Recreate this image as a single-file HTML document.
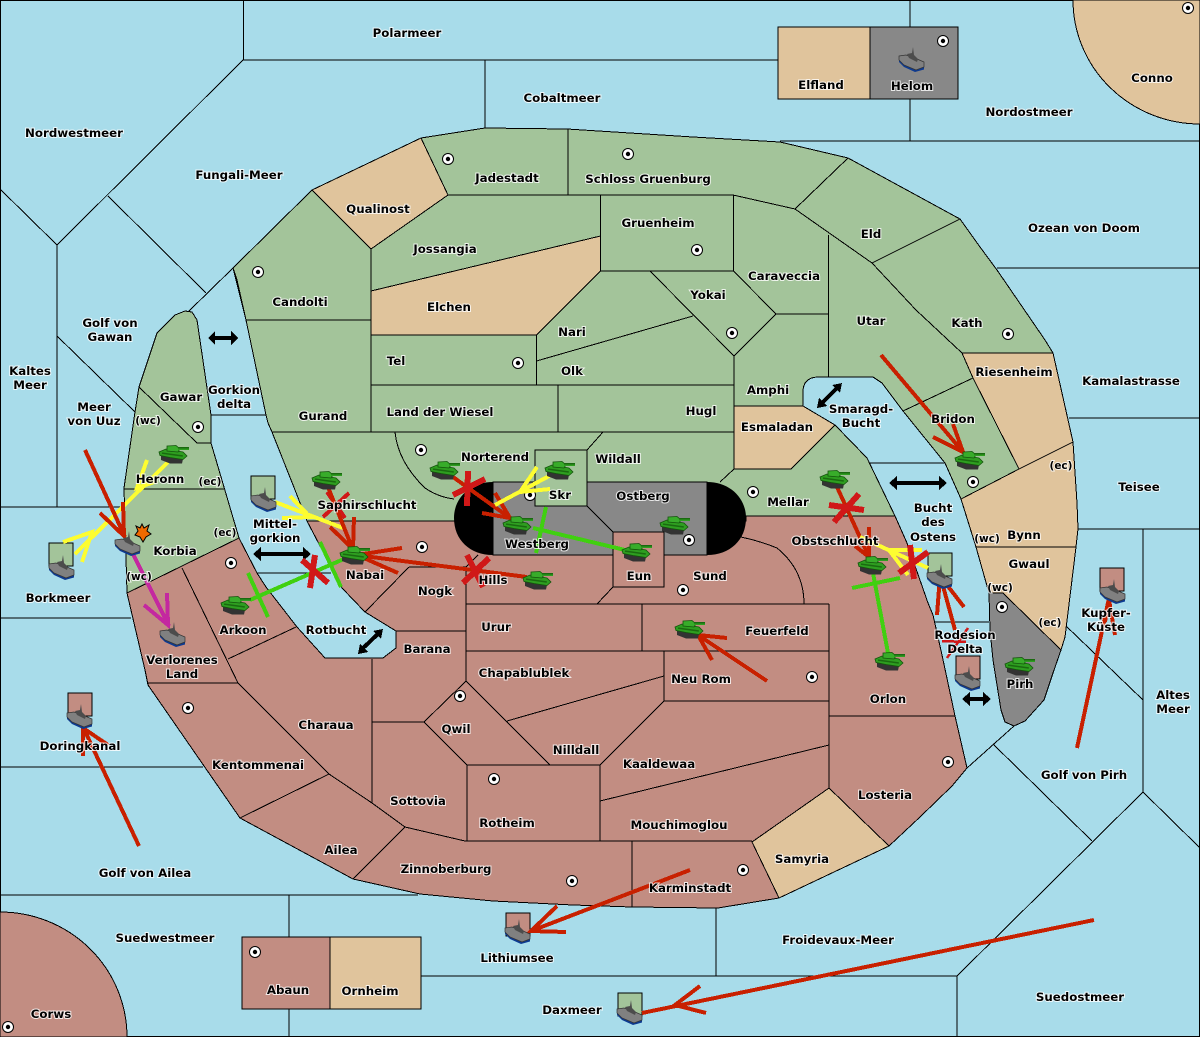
<!DOCTYPE html>
<html><head><meta charset="utf-8"><style>
html,body{margin:0;padding:0;background:#a8dcea}
svg{display:block}
.c{shape-rendering:crispEdges}
.b{fill:none;stroke:#000;stroke-width:1;shape-rendering:crispEdges}
.l{fill:#000;stroke:#fff;stroke-opacity:.8;stroke-width:2px;paint-order:stroke;font:bold 11.8px "DejaVu Sans",sans-serif;text-anchor:middle}
.s{font-size:10.5px}
.r,.y,.g,.m,.x{fill:none;stroke-width:4;stroke-linecap:butt}
.r{stroke:#c82000}.y{stroke:#fdfd30}.g{stroke:#40d010}.m{stroke:#c428a0}.x{stroke:#d01818;stroke-width:6}
</style></head><body>
<svg xmlns="http://www.w3.org/2000/svg" width="1200" height="1037" viewBox="0 0 1200 1037">
<defs>
<g id="sc"><circle r="5.5" fill="#fff" stroke="#000" stroke-width="1"/><circle r="2.2" fill="#000"/></g>
<g id="t">
<polygon points="-13,1 9,5 8,9.500 -4,9.500 -13,6" fill="#333"/>
<polygon points="-15,-2 -8,-5 9,-2 13,2 9,5.500 -4,3.500 -14,1.500" fill="#2e9e20" stroke="#14540c" stroke-width=".8"/>
<polygon points="-7,-8 2,-8.500 6,-5 4,-2 -7,-3" fill="#38ac2a" stroke="#14540c" stroke-width=".8"/>
<rect x="4" y="-7" width="11" height="1.500" fill="#1a6a10"/><rect x="4" y="-5.500" width="11" height="1.500" fill="#2e9e20"/>
<rect x="-12" y="0" width="21" height="1.500" fill="#1a6a10" transform="rotate(8)"/>
</g>
<g id="f">
<polygon points="-13,1 -8,7 4,12 12,9 12,11.500 3,14 -8,9 -13,4" fill="#0d3a90"/>
<polygon points="-13,-2 -6,-3 5,1 12,4 12,9 4,12 -8,7 -13,2" fill="#808080" stroke="#333" stroke-width=".7"/>
<polygon points="-5,-4 0,-5 1,-11 2,-3 6,1 5,4 -3,0" fill="#4c4c4c"/>
</g>
</defs>
<rect width="1200" height="1037" fill="#a8dcea"/>
<!-- sea borders -->
<path class="b" d="M.5,.5H1199.5V1036.5H.5Z M243.500,0V60 M243,60H778 M485,60V129 M243,60L57,245 M0,189L57,245 M108,196L206,293 M233,268L188,312 M57,245V507 M57,336L135,412 M0,507H124 M0,618H131 M0,767H203 M0,895H418 M289,895V937 M289,1009V1037 M910,0V27 M910,99V141 M780,141H1200 M997,268H1200 M1069,418H1200 M1078,529H1200 M1143,529V792 M1065,625L1143,700 M967,768L1014,726 M993,744L1092,841 M1143,792L957,976 M1143,792L1200,848 M716,908V976 M421,976H957 M957,976V1037 M211,415H266 M257,573H331 M870,463H945 M933,622H989"/>
<!-- land -->
<path class="b" style="fill:#a3c49a" d="M233,268L312,190 421,138 485,128 567,129 693,137 780,142 848,158 960,219 980,247 997,270 1045,340 1053,353 1019,469 961,499 945,463 903,411 882,383 873,377H817Q803,378 803,392V406L835,425 867,458 895,516H746V521H307L297,495 272,432 268,423 266,415 246,320 237,280Z"/>
<path class="b" style="fill:#a3c49a" d="M157,333L175,315 185,311 192,312 197,320 211,415V443L239,538 127,593 124,488 135,412 139,387Z"/>
<path class="b" style="fill:#c28d82" d="M307,521H746V516H895L907,543 928,603 933,615 942,655 955,716 967,768 952,786 920,817 889,846 779,898 718,908 632,907 573,905 493,901 420,894 353,879 240,818 148,685 145,670 127,593 239,538 257,573 266,587 297,627 325,658H383L396,648V631L365,612 342,588Z"/>
<polygon class="b" style="fill:#e0c49c" points="312,190 421,138 448,195 371,249"/>
<polygon class="b" style="fill:#e0c49c" points="371,291 600.500,236 600.500,271 536.500,335 371,335"/>
<path class="b" style="fill:#e0c49c" d="M734,406H803L835,425 791,469H734Z"/>
<polygon class="b" style="fill:#e0c49c" points="962,353 1053,353 1073,442 1019,469 973,378"/>
<polygon class="b" style="fill:#e0c49c" points="961,499 1019,469 1073,442 1077,503 1078,529 1076,547 976,547"/>
<polygon class="b" style="fill:#e0c49c" points="976,547 1076,547 1065,637 1061,650 1003,593 989,593"/>
<polygon class="b" style="fill:#e0c49c" points="829,788 889,846 779,898 752,842"/>
<polygon class="b" style="fill:#888" points="989,593 1003,593 1061,650 1053,673 1044,700 1025,721 1014,726 1005,722 1001,710 993,660 990,630"/>
<!-- capsule -->
<rect x="493" y="482" width="214" height="73" class="b" style="fill:#888"/>
<path d="M493,482C470,482 454,498 454,518C454,540 470,555 493,555Z M707,482C730,482 746,498 746,518C746,540 730,555 707,555Z" fill="#000"/>
<rect x="535" y="450" width="52" height="56" class="b" style="fill:#a3c49a"/>
<rect x="613" y="532" width="51" height="55" class="b" style="fill:#c28d82"/>
<!-- interior borders -->
<path class="b" d="M233,268L246,320H371 M371,249V432 M448,195H733 M568,129V195 M421,138L448,195 M536.500,335V385 M371,385H734 M536.500,361L693,316 M600.500,195V271H733.500V195 M733,195L795,209 M795,209L848,158 M795,209L872,263 872,263L960,219 M872,263L916,310 962,353 M650,271L734,356 M733.500,271L776,314 734,356 M776,314H828 M828.500,235V377 M734,356V406 M272,432H734 M558,385V432 M603,432L587,450 M734,469L720,482 M395,432Q398,462 425,488 Q438,497 454,499 M973,378L903,411 M587,506L613,532 M466,567V604 M466,604H829 M409,567H466 M466,567L478,555 M365,612L409,567 M396,631H466 M466,604V681 M597,604L613,587 M741,537Q760,541 777,548 Q804,570 804,604 M642,604V651 M466,651H829 M829,604V788 M664,651V701H829 M829,716H955 M466,681L550,765 M507,721L664,676 M664,701L600,765 M424,722L466,681 M424,722L467,765 M467,765H600 M467,765V841 M600,765V841 M372,659V803 M372,722H424 M465,841H752 M405,827L465,841 M632,841V907 M600,801L829,745 M127,593L239,538 M182,568L238,683 M148,683H238 M228,659L296,627 M238,683L329,774 M329,774L240,818 M329,774L372,803 405,827 M405,827L353,879 M124,489H224 M139,387L197,443H211"/>
<!-- islands -->
<path class="b" style="fill:#e0c49c" d="M1073,0A127,124 0 0 0 1200,124V0Z"/>
<path class="b" style="fill:#c28d82" d="M0,912A127,125 0 0 1 127,1037H0Z"/>
<rect class="b" x="778" y="27" width="92" height="72" style="fill:#e0c49c"/>
<rect class="b" x="870" y="27" width="88" height="72" style="fill:#888"/>
<rect class="b" x="242" y="937" width="88" height="72" style="fill:#c28d82"/>
<rect class="b" x="330" y="937" width="91" height="72" style="fill:#e0c49c"/>
<!-- home squares -->
<rect class="b" x="49" y="543" width="24" height="23" style="fill:#a3c49a"/>
<rect class="b" x="251" y="476" width="24" height="23" style="fill:#a3c49a"/>
<rect class="b" x="928" y="553" width="24" height="23" style="fill:#a3c49a"/>
<rect class="b" x="956" y="656" width="24" height="23" style="fill:#c28d82"/>
<rect class="b" x="1100" y="568" width="24" height="23" style="fill:#c28d82"/>
<rect class="b" x="68" y="693" width="24" height="23" style="fill:#c28d82"/>
<rect class="b" x="506" y="913" width="24" height="23" style="fill:#c28d82"/>
<rect class="b" x="618" y="993" width="24" height="23" style="fill:#a3c49a"/>
<!-- supply centres -->
<g>
<use href="#sc" x="448" y="159"/><use href="#sc" x="628" y="154"/><use href="#sc" x="258" y="272"/><use href="#sc" x="697" y="250"/><use href="#sc" x="518" y="363"/><use href="#sc" x="732" y="333"/><use href="#sc" x="1008" y="334"/><use href="#sc" x="973" y="482"/><use href="#sc" x="753" y="492"/><use href="#sc" x="421" y="450"/><use href="#sc" x="530" y="495"/><use href="#sc" x="422" y="547"/><use href="#sc" x="689" y="540"/><use href="#sc" x="683" y="590"/><use href="#sc" x="198" y="427"/><use href="#sc" x="231" y="563"/><use href="#sc" x="188" y="708"/><use href="#sc" x="460" y="696"/><use href="#sc" x="494" y="779"/><use href="#sc" x="572" y="881"/><use href="#sc" x="743" y="870"/><use href="#sc" x="812" y="677"/><use href="#sc" x="948" y="762"/><use href="#sc" x="255" y="952"/><use href="#sc" x="8" y="1027"/><use href="#sc" x="1002" y="607"/><use href="#sc" x="943" y="41"/><use href="#sc" x="1188" y="8"/>
</g>
<!-- double arrows -->
<g fill="#000" stroke="#000" stroke-width="4" class="c">
<path d="M212,338H234"/><polygon stroke-width="0" points="208,338 215,331 215,345"/><polygon stroke-width="0" points="238,338 231,331 231,345"/>
<path d="M258,554H306"/><polygon stroke-width="0" points="253,554 261,547 261,561"/><polygon stroke-width="0" points="311,554 303,547 303,561"/>
<path d="M893,483H943"/><polygon stroke-width="0" points="889,483 897,476 897,490"/><polygon stroke-width="0" points="947,483 939,476 939,490"/>
<path d="M966,699H987"/><polygon stroke-width="0" points="962,699 970,692 970,706"/><polygon stroke-width="0" points="991,699 983,692 983,706"/>
<path d="M361,650L380,632"/><polygon stroke-width="0" points="358,654 360,644 368,652"/><polygon stroke-width="0" points="383,629 381,639 373,631"/>
<path d="M820,405L839,386"/><polygon stroke-width="0" points="817,408 819,398 827,406"/><polygon stroke-width="0" points="842,383 840,393 832,385"/>
</g>
<!-- orders -->
<g class="c">
<path class="y" d="M75,554L168,462 M63,542L92,532 82,562 M147,460L137,488 157,481"/>
<path class="r" d="M85,450L125,537 M100,513L124,536 123,502"/>
<path class="m" d="M132,552L169,626 M144,605L168,625 167,593"/>
<path class="y" d="M275,502L343,528 M290,496L310,517 282,518"/>
<path class="x" d="M323,517L349,493 M327,492L345,518" style="stroke-width:4"/>
<path class="r" d="M328,487L353,550 M330,527L353,549 354,517"/>
<path class="r" d="M527,577L356,555 M402,548L357,555 398,573"/>
<path class="x" d="M463,583L489,558 M467,555L483,587"/>
<path class="g" d="M250,600L353,555 M248,573L268,617 M320,542L341,587"/>
<path class="x" d="M302,560L328,583 M315,555L310,588"/>
<path class="r" d="M453,477L510,518 M495,493L510,518 482,513"/>
<path class="x" d="M468,471L467,506 M453,495L485,479"/>
<path class="y" d="M551,475L495,505 M537,467L520,492 550,489"/>
<path class="g" d="M533,528L625,550 M546,507L536,553"/>
<path class="r" d="M767,681L698,635 M712,660L698,635 727,638"/>
<path class="r" d="M837,487L869,557 M855,546L869,557 869,527"/>
<path class="x" d="M829,505L864,510 M834,522L859,494"/>
<path class="y" d="M928,568L860,537 M922,550L889,550 908,575"/>
<path class="x" d="M899,573L928,552 M910,545L914,579"/>
<path class="g" d="M873,573L888,653 M852,588L900,578"/>
<path class="r" d="M881,355L963,452 M933,437L963,452 953,424"/>
<path class="r" d="M955,630L940,575 M937,615L940,576 964,607"/>
<path class="x" d="M942,641L966,642 M968,628L947,658" style="stroke-width:2.500"/>
<path class="r" d="M1077,748L1109,598 M1105,622L1109,600 1115,635"/>
<path class="r" d="M139,846L83,727 M83,756L83,728 108,745"/>
<path class="r" d="M690,870L531,931 M557,906L531,931 566,932"/>
<path class="r" d="M1094,920L642,1013 M700,986L675,1005 706,1013"/>
</g>
<polygon points="142,524 144,528 149,525 147,531 151,534 146,537 143,542 140,537 135,535 138,531 136,526 140,528" fill="#f06a00" stroke="#000" stroke-width="1"/>
<!-- units -->
<g>
<use href="#t" x="174" y="454"/><use href="#t" x="327" y="480"/><use href="#t" x="355" y="555"/><use href="#t" x="236" y="605"/><use href="#t" x="445" y="470"/><use href="#t" x="560" y="470"/><use href="#t" x="518" y="525"/><use href="#t" x="675" y="525"/><use href="#t" x="637" y="552"/><use href="#t" x="538" y="580"/><use href="#t" x="690" y="629"/><use href="#t" x="835" y="479"/><use href="#t" x="873" y="565"/><use href="#t" x="890" y="661"/><use href="#t" x="970" y="460"/><use href="#t" x="1020" y="666"/>
<use href="#f" x="128" y="542"/><use href="#f" x="62" y="566"/><use href="#f" x="264" y="498"/><use href="#f" x="173" y="633"/><use href="#f" x="940" y="575"/><use href="#f" x="968" y="677"/><use href="#f" x="1113" y="590"/><use href="#f" x="518" y="930"/><use href="#f" x="630" y="1011"/><use href="#f" x="912" y="58"/><use href="#f" x="80" y="715"/>
</g>
<!-- labels -->
<g class="l" transform="translate(0,1)">
<text x="407" y="36">Polarmeer</text><text x="562" y="101">Cobaltmeer</text><text x="74" y="136">Nordwestmeer</text><text x="239" y="178">Fungali-Meer</text><text x="1029" y="115">Nordostmeer</text><text x="1152" y="81">Conno</text><text x="821" y="88">Elfland</text><text x="912" y="89">Helom</text><text x="378" y="212">Qualinost</text><text x="507" y="181">Jadestadt</text><text x="648" y="182">Schloss Gruenburg</text><text x="658" y="226">Gruenheim</text><text x="445" y="252">Jossangia</text><text x="871" y="237">Eld</text><text x="1084" y="231">Ozean von Doom</text><text x="784" y="279">Caraveccia</text><text x="300" y="305">Candolti</text><text x="449" y="310">Elchen</text><text x="708" y="298">Yokai</text><text x="871" y="324">Utar</text><text x="967" y="326">Kath</text><text x="572" y="335">Nari</text><text x="110" y="326">Golf von</text><text x="110" y="340">Gawan</text><text x="396" y="364">Tel</text><text x="572" y="374">Olk</text><text x="1014" y="375">Riesenheim</text><text x="30" y="374">Kaltes</text><text x="30" y="388">Meer</text><text x="1131" y="384">Kamalastrasse</text><text x="323" y="419">Gurand</text><text x="440" y="415">Land der Wiesel</text><text x="701" y="414">Hugl</text><text x="768" y="393">Amphi</text><text x="181" y="400">Gawar</text><text x="234" y="393">Gorkion</text><text x="234" y="407">delta</text><text x="94" y="410">Meer</text><text x="94" y="424">von Uuz</text><text x="861" y="412">Smaragd-</text><text x="861" y="426">Bucht</text><text x="953" y="422">Bridon</text><text x="777" y="430">Esmaladan</text><text x="495" y="460">Norterend</text><text x="618" y="462">Wildall</text><text x="788" y="505">Mellar</text><text x="643" y="499">Ostberg</text><text x="560" y="498">Skr</text><text x="367" y="508">Saphirschlucht</text><text x="160" y="482">Heronn</text><text x="1139" y="490">Teisee</text><text x="933" y="511">Bucht</text><text x="933" y="525">des</text><text x="933" y="540">Ostens</text><text x="275" y="527">Mittel-</text><text x="275" y="541">gorkion</text><text x="175" y="554">Korbia</text><text x="537" y="547">Westberg</text><text x="835" y="544">Obstschlucht</text><text x="1024" y="538">Bynn</text><text x="1029" y="567">Gwaul</text><text x="365" y="578">Nabai</text><text x="493" y="583">Hills</text><text x="639" y="579">Eun</text><text x="710" y="579">Sund</text><text x="435" y="594">Nogk</text><text x="58" y="601">Borkmeer</text><text x="777" y="634">Feuerfeld</text><text x="496" y="630">Urur</text><text x="243" y="633">Arkoon</text><text x="336" y="633">Rotbucht</text><text x="1106" y="616">Kupfer-</text><text x="1106" y="630">Küste</text><text x="965" y="638">Rodesion</text><text x="965" y="652">Delta</text><text x="427" y="652">Barana</text><text x="182" y="663">Verlorenes</text><text x="182" y="677">Land</text><text x="524" y="676">Chapablublek</text><text x="701" y="682">Neu Rom</text><text x="1020" y="687">Pirh</text><text x="888" y="702">Orlon</text><text x="1173" y="698">Altes</text><text x="1173" y="712">Meer</text><text x="456" y="732">Qwil</text><text x="326" y="728">Charaua</text><text x="576" y="753">Nilldall</text><text x="80" y="749">Doringkanal</text><text x="258" y="768">Kentommenai</text><text x="659" y="767">Kaaldewaa</text><text x="1084" y="778">Golf von Pirh</text><text x="885" y="798">Losteria</text><text x="418" y="804">Sottovia</text><text x="507" y="826">Rotheim</text><text x="679" y="828">Mouchimoglou</text><text x="341" y="853">Ailea</text><text x="802" y="862">Samyria</text><text x="446" y="872">Zinnoberburg</text><text x="145" y="876">Golf von Ailea</text><text x="690" y="891">Karminstadt</text><text x="165" y="941">Suedwestmeer</text><text x="838" y="943">Froidevaux-Meer</text><text x="517" y="961">Lithiumsee</text><text x="288" y="993">Abaun</text><text x="370" y="994">Ornheim</text><text x="1080" y="1000">Suedostmeer</text><text x="572" y="1013">Daxmeer</text><text x="51" y="1017">Corws</text>
<text x="148" y="423" class="s">(wc)</text><text x="210" y="484" class="s">(ec)</text><text x="1061" y="468" class="s">(ec)</text><text x="225" y="535" class="s">(ec)</text><text x="139" y="579" class="s">(wc)</text><text x="987" y="541" class="s">(wc)</text><text x="1000" y="590" class="s">(wc)</text><text x="1050" y="625" class="s">(ec)</text>
</g>
</svg>
</body></html>
